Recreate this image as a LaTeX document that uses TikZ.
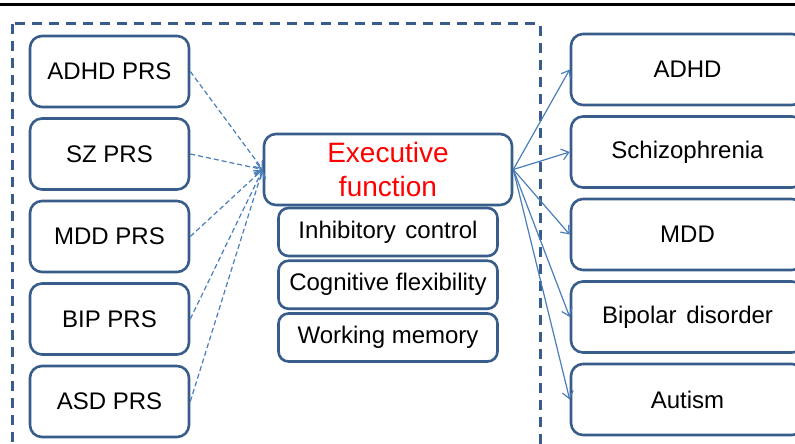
\documentclass[tikz,border=0pt]{standalone}
\usepackage{fontspec}
\setmainfont{Liberation Sans}
\usetikzlibrary{arrows.meta,positioning}
\definecolor{boxBlue}{RGB}{56,93,138}
\definecolor{arrowBlue}{RGB}{74,126,187}

\begin{document}
\begin{tikzpicture}[x=1pt,y=-1pt,>={Straight Barb[length=7pt,width=11pt]}]
  \tikzstyle{disorder} = [draw=boxBlue, line width=2.6pt, rounded corners=12pt, fill=white, minimum height=71pt, font={\fontsize{24}{29}\selectfont}, node distance=82.5pt]
  \tikzstyle{prs} = [disorder, minimum width=159pt]
  \tikzstyle{outcome} = [disorder, minimum width=233pt]
  \tikzstyle{efPart} = [disorder, minimum width=219pt, minimum height=48pt, rounded corners=10pt, node distance=52.75pt]
  \tikzstyle{efBox} = [disorder, minimum width=248pt, text=red, align=center, font={\fontsize{28}{34}\selectfont}]

  \tikzstyle{edgePortion} = [arrowBlue, line width=1.2pt];
  \tikzstyle{prsEdge} = [edgePortion, dash pattern=on 5pt off 3pt, ->];
  \tikzstyle{outEdge} = [edgePortion, ->];

  \clip (0,0) rectangle (795,444);
  \fill[white] (0,0) rectangle (795,444);
  \draw[black, line width=3pt] (0,5) -- (795,5);
  \draw[boxBlue, line width=3pt, dash pattern=on 10pt off 7pt] (12,24) rectangle (540,480);

  % polygenic risk scores
  \node[prs] (adhdPrs) at (109.5,71.5) {ADHD PRS};
  \node[prs] (szPrs)   [below of=adhdPrs] {SZ PRS};
  \node[prs] (mddPrs)  [below of=szPrs]   {MDD PRS};
  \node[prs] (bipPrs)  [below of=mddPrs]  {BIP PRS};
  \node[prs] (asdPrs)  [below of=bipPrs]  {ASD PRS};

  % executive function and its parts
  \node[efBox] (ef) at (388,169.5) {Executive\\function};
  \node[efPart] (inhib) [below of=ef, node distance=62.5pt] {Inhibitory\hspace{0.4em}control};
  \node[efPart] (flex)  [below of=inhib] {Cognitive flexibility};
  \node[efPart] (wm)    [below of=flex]  {Working memory};

  % disorders
  \node[outcome] (adhd)   at (687.5,69.5) {ADHD};
  \node[outcome] (sz)     [below of=adhd] {Schizophrenia};
  \node[outcome] (mdd)    [below of=sz]   {MDD};
  \node[outcome] (bip)    [below of=mdd]  {Bipolar\hspace{0.4em}disorder};
  \node[outcome] (autism) [below of=bip]  {Autism};

  \path (adhdPrs.east) edge[prsEdge] (ef.west)
        (szPrs.east)   edge[prsEdge] (ef.west)
        (mddPrs.east)  edge[prsEdge] (ef.west)
        (bipPrs.east)  edge[prsEdge] (ef.west)
        (asdPrs.east)  edge[prsEdge] (ef.west);

  \path (ef.east) edge[outEdge] (adhd.west)
                  edge[outEdge] (sz.west)
                  edge[outEdge] (mdd.west)
                  edge[outEdge] (bip.west)
                  edge[outEdge] (autism.west);
\end{tikzpicture}
\end{document}
